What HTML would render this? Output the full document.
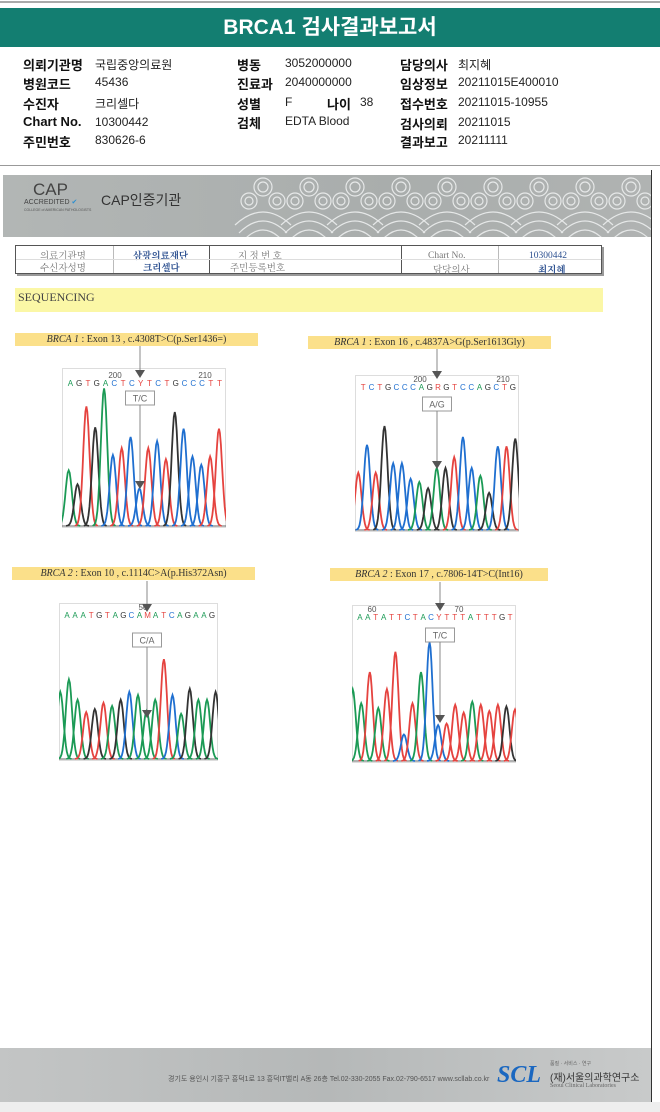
<!DOCTYPE html>
<html><head><meta charset="utf-8">
<style>
body{margin:0;width:660px;height:1112px;position:relative;background:#fff;overflow:hidden;font-family:"Liberation Sans","Noto Sans CJK KR",sans-serif;}
.a{position:absolute;white-space:nowrap;}
.lb{font-weight:bold;font-size:13px;color:#111;}
.vl{font-size:12px;color:#222;}
.cap{font-family:"Liberation Serif","Noto Serif CJK SC",serif;font-size:10px;color:#333;background:#fbe08a;height:13px;line-height:13px;}
.tb{font-family:"Liberation Serif","Noto Serif CJK SC",serif;font-size:9.5px;}
</style></head><body>
<div class="a" style="left:0;top:1px;width:660px;height:2px;background:#aaa"></div>
<div class="a" style="left:0;top:8px;width:660px;height:39px;background:#137e71;color:#fff;text-align:center;font-weight:bold;font-size:21px;line-height:39px">BRCA1 검사결과보고서</div>

<div>
<div class="a lb" style="left:23px;top:55px">의뢰기관명</div><div class="a vl" style="left:95px;top:56px">국립중앙의료원</div>
<div class="a lb" style="left:23px;top:74px">병원코드</div><div class="a vl" style="left:95px;top:75px">45436</div>
<div class="a lb" style="left:23px;top:94px">수진자</div><div class="a vl" style="left:95px;top:95px">크리셀다</div>
<div class="a lb" style="left:23px;top:114px">Chart No.</div><div class="a vl" style="left:95px;top:115px">10300442</div>
<div class="a lb" style="left:23px;top:132px">주민번호</div><div class="a vl" style="left:95px;top:133px">830626-6</div>
<div class="a lb" style="left:237px;top:55px">병동</div><div class="a vl" style="left:285px;top:56px">3052000000</div>
<div class="a lb" style="left:237px;top:74px">진료과</div><div class="a vl" style="left:285px;top:75px">2040000000</div>
<div class="a lb" style="left:237px;top:94px">성별</div><div class="a vl" style="left:285px;top:95px">F</div>
<div class="a lb" style="left:327px;top:94px">나이</div><div class="a vl" style="left:360px;top:95px">38</div>
<div class="a lb" style="left:237px;top:113px">검체</div><div class="a vl" style="left:285px;top:114px">EDTA Blood</div>
<div class="a lb" style="left:400px;top:55px">담당의사</div><div class="a vl" style="left:458px;top:56px">최지혜</div>
<div class="a lb" style="left:400px;top:74px">임상정보</div><div class="a vl" style="left:458px;top:75px">20211015E400010</div>
<div class="a lb" style="left:400px;top:94px">접수번호</div><div class="a vl" style="left:458px;top:95px">20211015-10955</div>
<div class="a lb" style="left:400px;top:114px">검사의뢰</div><div class="a vl" style="left:458px;top:115px">20211015</div>
<div class="a lb" style="left:400px;top:132px">결과보고</div><div class="a vl" style="left:458px;top:133px">20211111</div>
</div>
<div class="a" style="left:0;top:165px;width:660px;height:1px;background:#999"></div>
<div class="a" style="left:651px;top:170px;width:1px;height:932px;background:#333"></div>

<div class="a" style="left:3px;top:175px;width:648px;height:62px;background:linear-gradient(90deg,#b2b6b5,#a9adac 60%,#b0b3b2)">
<svg width="648" height="62" style="position:absolute;left:0;top:0">
<defs><g id="cl"><circle cx="0" cy="0" r="9"/><circle cx="0" cy="0" r="5"/><circle cx="-14" cy="14" r="8"/><circle cx="-14" cy="14" r="4"/><circle cx="14" cy="14" r="8"/><circle cx="14" cy="14" r="4"/><path d="M-28 38 Q0 12 28 38 M-24 46 Q0 22 24 46 M-20 54 Q0 32 20 54"/></g></defs>
<g fill="none" stroke="#e6e8e8" stroke-width="1.2">
<use href="#cl" x="260" y="12"/><use href="#cl" x="306" y="12"/><use href="#cl" x="352" y="12"/><use href="#cl" x="398" y="12"/><use href="#cl" x="444" y="12"/><use href="#cl" x="490" y="12"/><use href="#cl" x="536" y="12"/><use href="#cl" x="582" y="12"/><use href="#cl" x="628" y="12"/>
</g></svg>
<div class="a" style="left:30px;top:5px;font-size:17px;color:#444">CAP</div>
<div class="a" style="left:21px;top:23px;font-size:7px;color:#444">ACCREDITED <span style="color:#2c8fd0">✔</span></div>
<div class="a" style="left:21px;top:33px;font-size:3.5px;color:#555">COLLEGE of AMERICAN PATHOLOGISTS</div>
<div class="a" style="left:98px;top:15px;font-size:14px;color:#333">CAP인증기관</div>
</div>

<div class="a" style="left:15px;top:245px;width:585px;height:27px;border:1px solid #555;box-shadow:2px 2px 0 #999">
<div class="a tb" style="left:24px;top:2px;color:#777">의료기관명</div><div class="a tb" style="left:24px;top:14px;color:#777">수신자성명</div>
<div class="a tb" style="left:117px;top:2px;color:#2b4f8f;font-weight:bold">삼광의료재단</div><div class="a tb" style="left:127px;top:14px;color:#2b4f8f;font-weight:bold">크리셀다</div>
<div class="a" style="left:97px;top:0;width:1px;height:27px;background:#bbb"></div>
<div class="a" style="left:193px;top:0;width:1px;height:27px;background:#555"></div>
<div class="a tb" style="left:222px;top:2px;color:#777">지 정 번 호</div><div class="a tb" style="left:214px;top:14px;color:#777">주민등록번호</div>
<div class="a" style="left:385px;top:0;width:1px;height:27px;background:#555"></div>
<div class="a tb" style="left:412px;top:5px;color:#777">Chart No.</div><div class="a tb" style="left:417px;top:16px;color:#777">담당의사</div>
<div class="a" style="left:482px;top:0;width:1px;height:27px;background:#bbb"></div>
<div class="a tb" style="left:513px;top:5px;color:#2b4f8f">10300442</div><div class="a tb" style="left:522px;top:16px;color:#2b4f8f;font-weight:bold">최지혜</div>
<div class="a" style="left:0;top:13px;width:585px;height:1px;background:#ddd"></div>
</div>

<div class="a" style="left:15px;top:288px;width:585px;height:24px;background:#fbf7a6;font-family:'Liberation Serif',serif;font-size:12px;color:#444;line-height:18px;padding-left:3px">SEQUENCING</div>

<div class="a cap" style="left:15px;top:333px;width:243px;text-align:center"><i>BRCA 1</i> : Exon 13 , c.4308T&gt;C(p.Ser1436=)</div>
<div class="a cap" style="left:308px;top:336px;width:243px;text-align:center"><i>BRCA 1</i> : Exon 16 , c.4837A&gt;G(p.Ser1613Gly)</div>
<div class="a cap" style="left:12px;top:567px;width:243px;text-align:center"><i>BRCA 2</i> : Exon 10 , c.1114C&gt;A(p.His372Asn)</div>
<div class="a cap" style="left:330px;top:568px;width:218px;text-align:center"><i>BRCA 2</i> : Exon 17 , c.7806-14T&gt;C(Int16)</div>

<svg id="chrom1" class="a" style="left:62px;top:368px" width="164" height="160"></svg>
<svg id="chrom2" class="a" style="left:355px;top:375px" width="164" height="157"></svg>
<svg id="chrom3" class="a" style="left:59px;top:603px" width="159" height="158"></svg>
<svg id="chrom4" class="a" style="left:352px;top:605px" width="164" height="158"></svg>
<svg id="over" class="a" style="left:0;top:0" width="660" height="1112"></svg>

<div class="a" style="left:0;top:1048px;width:651px;height:54px;background:linear-gradient(90deg,#c3c5c5,#b5b8b8 50%,#c8caca)">
<div class="a" style="left:168px;top:26px;font-size:7px;color:#555">경기도 용인시 기흥구 흥덕1로 13 흥덕IT밸리 A동 26층 Tel.02-330-2055 Fax.02-790-6517 www.scllab.co.kr</div>
<div class="a" style="left:497px;top:14px;font-family:'Liberation Serif',serif;font-style:italic;font-weight:bold;font-size:24px;color:#1a67c0">SCL</div>
<div class="a" style="left:550px;top:12px;font-size:5px;color:#666">품질 · 서비스 · 연구</div>
<div class="a" style="left:550px;top:21px;font-size:10px;color:#333">(재)서울의과학연구소</div>
<div class="a" style="left:550px;top:35px;font-size:6px;color:#666;font-family:'Liberation Serif',serif">Seoul Clinical Laboratories</div>
</div>
<div class="a" style="left:0;top:1102px;width:660px;height:10px;background:#eee"></div>

<script>
// chart 1 data
const heights1 = [0.40,0.30,0.86,0.71,0.99,0.51,0.56,0.64,0.27,0.56,0.61,0.48,0.82,0.70,0.50,0.44,0.50,0.70];
const peakBases1 = ["A","G","T","G","A","C","T","C","C","T","C","T","G","C","C","C","T","T"];
const seq1 = "AGTGACTCYTCTGCCCTT";
const ticks1 = ["200","210"];
// chart 2 data
const peakBases2 = ["T","C","T","G","C","C","C","A","G","A","G","T","C","C","A","G","C","T","G"];
const heights2 = [0.37,0.55,0.37,0.67,0.43,0.43,0.33,0.31,0.27,0.40,0.40,0.47,0.60,0.40,0.35,0.24,0.54,0.54,0.59];
const seq2 = "TCTGCCCAGRGTCCAGCTG";
const ticks2 = ["200","210"];
// chart 3 data
const peakBases3 = ["A","A","A","T","G","T","A","G","C","A","A","A","T","C","A","G","A","A","G"];
const heights3 = [0.43,0.51,0.38,0.30,0.32,0.36,0.34,0.38,0.43,0.41,0.31,0.38,0.64,0.41,0.29,0.45,0.38,0.38,0.43];
const seq3 = "AAATGTAGCAMATCAGAAG";
const ticks3 = ["50"];
// chart 4 data
const peakBases4 = ["A","A","T","A","T","T","C","T","A","C","C","T","T","T","A","T","T","T","G","T"];
const heights4 = [0.46,0.37,0.57,0.34,0.46,0.70,0.17,0.37,0.57,0.76,0.23,0.24,0.36,0.31,0.38,0.36,0.32,0.36,0.35,0.33];
const seq4 = "AATATTCTACYTTTATTTGT";
const ticks4 = ["60","70"];

const COL={A:"#1b9a55",C:"#1f6fd0",G:"#333333",T:"#e5433f",Y:"#e5433f",R:"#e5433f",M:"#e5433f"};
const NS="http://www.w3.org/2000/svg";
function mk(tag,attrs,parent){const e=document.createElementNS(NS,tag);for(const k in attrs)e.setAttribute(k,attrs[k]);parent.appendChild(e);return e;}

function drawChart(id,pb,hs,seq,ticks,o){
  const svg=document.getElementById(id);
  const W=+svg.getAttribute("width"),H=+svg.getAttribute("height");
  const base=H-2, scale=(H-2)*o.scale;
  const xScale=i=>o.x0+i*o.dx;
  const yScale=v=>base-v*scale;
  const fr=mk("rect",{x:0.5,y:0.5,width:W-1,height:H-1,fill:"#fff",stroke:"#ddd"},svg);
  
  
  mk("line",{x1:0,y1:base,x2:W,y2:base,stroke:"#666","stroke-width":1},svg);
  const sig=o.dx*0.36;
  for(let i=0;i<hs.length;i++){
    const cx=xScale(i);let d="";
    for(let k=-12;k<=12;k++){const x=cx+k*sig*0.3;const y=yScale(hs[i]*Math.exp(-Math.pow(k*0.3,2)/2));d+=(k==-12?"M":"L")+x.toFixed(1)+" "+y.toFixed(1);}
    const p=mk("path",{d:d,fill:"none",stroke:COL[pb[i]],"stroke-width":1.8},svg);
    
    
  }
  const ls=(W-6)/seq.length;
  for(let i=0;i<seq.length;i++){
    const t=mk("text",{x:4+ls*(i+0.5),y:o.ly,"font-size":8,"text-anchor":"middle",fill:COL[seq[i]],"font-family":"Liberation Sans, sans-serif"},svg);
    t.textContent=seq[i];
    
    
  }
  ticks.forEach((tk,j)=>{
    const t=mk("text",{x:o.tx[j],y:o.ly-8,"font-size":8,"text-anchor":"middle",fill:"#555","font-family":"Liberation Sans, sans-serif"},svg);
    t.textContent=tk;
    
    
  });
}
drawChart("chrom1",peakBases1,heights1,seq1,ticks1,{x0:6.7,dx:8.84,scale:0.88,ly:18,tx:[53,143]});
drawChart("chrom2",peakBases2,heights2,seq2,ticks2,{x0:3.3,dx:8.72,scale:1,ly:15,tx:[65,148]});
drawChart("chrom3",peakBases3,heights3,seq3,ticks3,{x0:1.3,dx:8.63,scale:1,ly:15,tx:[84]});
drawChart("chrom4",peakBases4,heights4,seq4,ticks4,{x0:0.7,dx:8.54,scale:1,ly:15,tx:[20,107]});

const over=document.getElementById("over");
function anno(x,y0,y1,by,label,y3){
  mk("line",{x1:x,y1:y0,x2:x,y2:y1-6,stroke:"#888","stroke-width":1},over);
  mk("path",{d:`M${x-5} ${y1-7}L${x+5} ${y1-7}L${x} ${y1+1}Z`,fill:"#555"},over);
  const r=mk("rect",{x:x-14.5,y:by,width:29,height:14,fill:"#fff",stroke:"#999"},over);
  
  
  const t=mk("text",{x:x,y:by+10.5,"font-size":9,"text-anchor":"middle",fill:"#666","font-family":"Liberation Sans, sans-serif"},over);
  t.textContent=label;
  mk("line",{x1:x,y1:by+14,x2:x,y2:y3-6,stroke:"#888","stroke-width":1},over);
  mk("path",{d:`M${x-5} ${y3-7}L${x+5} ${y3-7}L${x} ${y3+1}Z`,fill:"#555"},over);
}
anno(140,346,377,391,"T/C",488);
anno(437,349,378,397,"A/G",468);
anno(147,581,611,633,"C/A",717);
anno(440,582,610,628,"T/C",722);
</script>
</body></html>
